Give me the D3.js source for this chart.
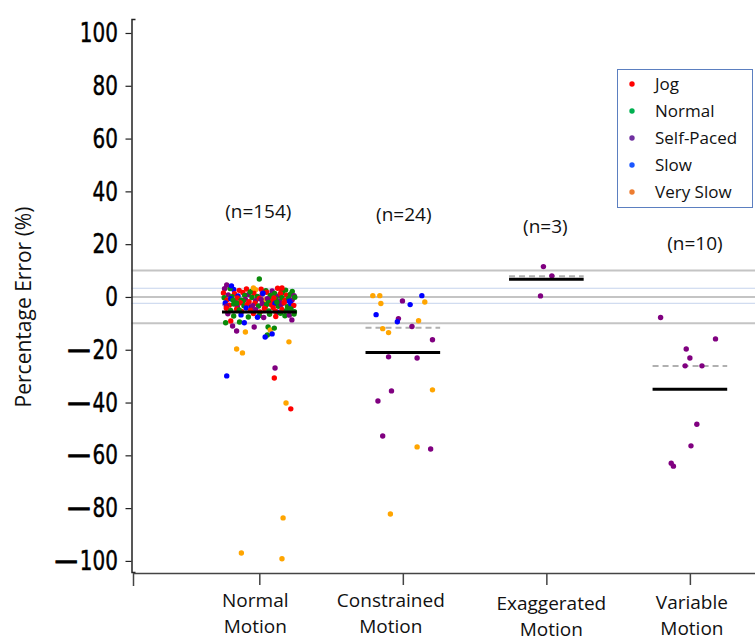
<!DOCTYPE html>
<html>
<head>
<meta charset="utf-8">
<script src="https://cdn.jsdelivr.net/npm/d3@7"></script>
<style>
  body { margin: 0; background: #fff; }
  svg { display: block; }
</style>
</head>
<body>
<div id="chart"></div>
<script>
// categories and summary values
var groups = ["Normal Motion", "Constrained Motion", "Exaggerated Motion", "Variable Motion"];
var groupN = [154, 24, 3, 10];
var groupMean = [-5.7, -21, 6.7, -35];
var groupMedian = [-3, -11.7, 7.8, -26.2];
var speeds = ["Jog", "Normal", "Self-Paced", "Slow", "Very Slow"];
var speedCodes = ["J", "N", "P", "S", "V"];
var yTicks = [100, 80, 60, 40, 20, 0, -20, -40, -60, -80, -100];
var grayLines = [10, 0, -10];
var blueLines = [3.3, -2.4];

// points: [percentage error, jitter (-1..1), speed]
var normalPoints = [
  [3.1,-0.95,"P"],[2.8,-0.7,"S"],[2.5,-0.55,"J"],[3.0,-0.35,"J"],[2.2,-0.2,"N"],[2.9,0.05,"J"],[2.4,0.18,"N"],
  [3.3,0.5,"J"],[2.6,0.72,"N"],[2.1,0.9,"N"],[2.7,-0.1,"V"],[2.3,0.35,"P"],[3.2,-0.8,"N"],[2.0,0.6,"J"],
  [1.5,-0.98,"J"],[0.8,-0.85,"P"],[1.2,-0.68,"J"],[0.4,-0.58,"S"],[1.7,-0.45,"J"],[0.9,-0.3,"P"],[1.4,-0.15,"J"],
  [0.2,-0.05,"N"],[1.1,0.08,"P"],[1.8,0.2,"J"],[0.6,0.3,"N"],[1.3,0.42,"N"],[0.3,0.52,"P"],[1.6,0.63,"N"],
  [0.7,0.74,"J"],[1.0,0.85,"N"],[0.5,0.95,"P"],[1.9,-0.25,"N"],[0.1,-0.75,"N"],[1.4,0.1,"S"],[0.6,-0.4,"N"],[1.2,0.58,"J"],
  [-0.3,-0.96,"N"],[-1.1,-0.88,"J"],[-0.7,-0.78,"S"],[-1.6,-0.66,"P"],[-0.4,-0.6,"J"],[-1.2,-0.5,"N"],[-0.9,-0.38,"P"],
  [-1.8,-0.28,"J"],[-0.2,-0.2,"N"],[-1.4,-0.1,"P"],[-0.6,0.0,"J"],[-1.9,0.1,"N"],[-1.0,0.17,"V"],[-0.5,0.27,"N"],
  [-1.5,0.36,"J"],[-0.8,0.45,"N"],[-1.7,0.55,"P"],[-0.3,0.62,"N"],[-1.3,0.7,"J"],[-0.6,0.8,"N"],[-1.1,0.9,"P"],
  [-0.1,0.97,"N"],[-1.5,-0.44,"N"],[-0.9,0.05,"P"],[-1.6,0.82,"S"],[-0.4,0.4,"J"],[-1.2,-0.72,"N"],[-0.7,0.22,"P"],
  [-2.3,-0.93,"S"],[-3.1,-0.82,"J"],[-2.7,-0.7,"N"],[-3.6,-0.6,"P"],[-2.2,-0.52,"J"],[-3.3,-0.42,"N"],[-2.8,-0.33,"J"],
  [-3.8,-0.22,"S"],[-2.4,-0.12,"J"],[-3.4,-0.02,"N"],[-2.6,0.08,"P"],[-3.9,0.16,"J"],[-2.1,0.25,"N"],[-3.0,0.33,"J"],
  [-2.5,0.43,"S"],[-3.5,0.52,"N"],[-2.9,0.6,"P"],[-2.2,0.68,"J"],[-3.7,0.77,"N"],[-2.6,0.86,"S"],[-3.2,0.94,"J"],
  [-2.4,-0.62,"N"],[-3.5,-0.9,"P"],[-2.9,0.2,"N"],[-3.3,-0.18,"P"],[-2.0,0.48,"N"],
  [-4.3,-0.9,"J"],[-5.1,-0.78,"N"],[-4.6,-0.62,"J"],[-5.5,-0.48,"J"],[-4.2,-0.36,"S"],[-5.0,-0.24,"J"],[-4.8,-0.1,"P"],
  [-5.7,0.02,"J"],[-4.4,0.14,"J"],[-5.3,0.26,"N"],[-4.1,0.38,"J"],[-5.8,0.5,"S"],[-4.7,0.62,"J"],[-5.2,0.74,"N"],
  [-4.5,0.86,"P"],[-5.6,0.96,"N"],[-4.9,-0.55,"N"],[-5.4,0.44,"J"],
  [-6.4,-0.86,"P"],[-7.2,-0.7,"N"],[-6.8,-0.5,"S"],[-7.6,-0.3,"N"],[-6.3,-0.16,"J"],[-7.0,0.0,"N"],[-7.8,0.12,"P"],
  [-6.6,0.28,"N"],[-7.4,0.45,"J"],[-6.2,0.58,"N"],[-7.1,0.7,"N"],[-6.9,0.82,"P"],[-7.7,-0.05,"S"],[-6.5,0.95,"N"],
  [6.8,0.0,"N"],[3.4,-0.16,"V"],[4.5,-0.89,"P"],[4.2,-0.76,"S"],[3.4,0.62,"J"],[-4.5,0.86,"N"],
  [-9.8,-0.92,"N"],[-9.1,-0.78,"J"],[-9.5,-0.54,"N"],[-9.8,-0.41,"S"],[-11,-0.73,"P"],[-12.9,-0.62,"P"],
  [-13.3,-0.38,"V"],[-11.4,-0.14,"P"],[-11.4,0.24,"N"],[-12.5,0.3,"V"],[-11.8,0.41,"N"],[-14.4,0.22,"N"],
  [-14,0.35,"S"],[-15.2,0.16,"S"],[-17,0.81,"V"],[-19.7,-0.62,"V"],[-21.2,-0.46,"V"],[-8.7,0.89,"P"],
  [-29.9,-0.89,"S"],[-26.9,0.43,"P"],[-30.7,0.41,"J"],[-40.2,0.73,"V"],[-42.4,0.86,"J"],
  [-83.7,0.65,"V"],[-97,-0.49,"V"],[-99.2,0.62,"V"]
];
var constrainedPoints = [
  [0.5,-0.82,"V"],[0.5,-0.63,"V"],[0.5,0.52,"S"],[-2.5,-0.6,"V"],[-1.5,-0.01,"P"],[-2.9,0.2,"S"],
  [-1.9,0.6,"V"],[-6.7,-0.73,"S"],[-8.2,-0.12,"P"],[-9.4,-0.15,"S"],[-9,0.43,"V"],[-11.2,0.25,"P"],
  [-12,-0.55,"V"],[-13.5,-0.39,"V"],[-16.2,0.81,"P"],[-22.7,-0.39,"P"],[-23.1,0.39,"P"],[-35.6,-0.31,"P"],
  [-35.2,0.81,"V"],[-39.4,-0.68,"P"],[-52.7,-0.55,"P"],[-56.8,0.39,"V"],[-57.6,0.76,"P"],[-82.2,-0.34,"V"]
];
var exaggeratedPoints = [
  [11.5,-0.08,"P"],[8,0.15,"P"],[0.4,-0.16,"P"]
];
var variablePoints = [
  [-7.8,-0.8,"P"],[-15.9,0.7,"P"],[-19.7,-0.1,"P"],[-23.1,0,"P"],[-26.1,-0.13,"P"],
  [-26.1,0.33,"P"],[-48.2,0.19,"P"],[-56.4,0.03,"P"],[-63,-0.51,"P"],[-64.1,-0.45,"P"]
];

// styles
var dotColors = ["#ff0000", "#0a8a0a", "#800080", "#0000ff", "#ffa500"];
var legendColors = ["#ff0000", "#00b050", "#7030a0", "#1a56ff", "#ed7d31"];

var svgWidth = 755, svgHeight = 642;

var svg = d3.select("#chart")
  .append("svg")
  .attr("width", svgWidth)
  .attr("height", svgHeight);

var x = d3.scaleLinear().domain([0.12, 4.6]).range([133, 776]);
var y = d3.scaleLinear().domain([-104.2, 105.3]).range([572, 19]);
var jit = d3.scaleLinear().domain([-1, 1]).range([-0.255, 0.255]);
var color = d3.scaleOrdinal().domain(speedCodes).range(dotColors);

var axisX = 131.5;

// reference lines
svg.selectAll(".gray-line")
  .data(grayLines)
  .enter()
  .append("line")
  .attr("x1", axisX).attr("x2", svgWidth)
  .attr("y1", d => y(d)).attr("y2", d => y(d))
  .attr("stroke", "#c4c4c4")
  .attr("stroke-width", 2);

svg.selectAll(".blue-line")
  .data(blueLines)
  .enter()
  .append("line")
  .attr("x1", axisX).attr("x2", svgWidth)
  .attr("y1", d => y(d)).attr("y2", d => y(d))
  .attr("stroke", "#8aa6d8")
  .attr("stroke-width", 1)
  .attr("stroke-dasharray", "1,1");

// medians (dashed)
svg.selectAll(".median")
  .data(groupMedian)
  .enter()
  .append("line")
  .attr("x1", (d, i) => x(i + 1 - 0.26))
  .attr("x2", (d, i) => x(i + 1 + 0.26))
  .attr("y1", d => y(d)).attr("y2", d => y(d))
  .attr("stroke", "#b0b0b0")
  .attr("stroke-width", 2)
  .attr("stroke-dasharray", "6,4");

// points
var allPoints = [];
[normalPoints, constrainedPoints, exaggeratedPoints, variablePoints].forEach(function(pts, i) {
  pts.forEach(function(p) {
    allPoints.push({ g: i + 1, v: p[0], j: p[1], s: p[2] });
  });
});

svg.selectAll(".dot")
  .data(allPoints)
  .enter()
  .append("circle")
  .attr("cx", d => x(d.g + jit(d.j)))
  .attr("cy", d => y(d.v))
  .attr("r", 2.7)
  .attr("fill", d => color(d.s));

// means
svg.selectAll(".mean")
  .data(groupMean)
  .enter()
  .append("line")
  .attr("x1", (d, i) => x(i + 1 - 0.26))
  .attr("x2", (d, i) => x(i + 1 + 0.26))
  .attr("y1", d => y(d)).attr("y2", d => y(d))
  .attr("stroke", "#000")
  .attr("stroke-width", 3);

// y axis
var yAxis = d3.axisLeft(y)
  .tickValues(yTicks)
  .tickSize(6)
  .tickSizeOuter(-4)
  .tickPadding(7)
  .tickFormat(d => Math.abs(d));

var gY = svg.append("g")
  .attr("transform", `translate(${axisX},0)`)
  .attr("color", "#222")
  .call(yAxis);

gY.select(".domain").attr("stroke-width", 1.5);
gY.selectAll(".tick line").attr("stroke-width", 1.2);
// condensed, heavy tick labels
gY.selectAll(".tick text")
  .attr("x", 0)
  .attr("transform", "translate(-13.5,0) scale(0.74,1)")
  .attr("font-family", "'DejaVu Sans', sans-serif")
  .attr("font-size", 27)
  .attr("fill", "#000")
  .attr("stroke", "#000")
  .attr("stroke-width", 0.5)
  .each(function(d) {
    if (d < 0) {
      var t = d3.select(this);
      t.text(null);
      t.append("tspan").attr("font-size", 31)
        .attr("stroke-width", 1.2).text("\u2014");
      t.append("tspan").attr("dx", 3).text(Math.abs(d));
    }
  });

// x axis
var xAxis = d3.axisBottom(x)
  .tickValues([1, 2, 3, 4])
  .tickSize(12)
  .tickSizeOuter(13)
  .tickFormat("");

svg.append("g")
  .attr("transform", "translate(0,573)")
  .attr("color", "#444")
  .call(xAxis)
  .selectAll("path, line").attr("stroke-width", 1.5);

// category labels
var labelDx = [-4, -12, 5, 2];
var labelY = [607, 607, 610, 609];
groups.forEach(function(name, i) {
  var words = name.split(" ");
  var t = svg.append("text")
    .attr("x", x(i + 1) + labelDx[i])
    .attr("y", labelY[i])
    .attr("text-anchor", "middle")
    .attr("font-family", "'Open Sans', sans-serif")
    .attr("font-size", 19)
    .attr("fill", "#111");
  words.forEach(function(w, k) {
    t.append("tspan")
      .attr("x", x(i + 1) + labelDx[i])
      .attr("dy", k === 0 ? 0 : 26)
      .text(w);
  });
});

// n labels
var nLabelDx = [-1, 1, -1, 5];
var nLabelY = [218, 221, 233, 250];
svg.selectAll(".nlabel")
  .data(groupN)
  .enter()
  .append("text")
  .attr("x", (d, i) => x(i + 1) + nLabelDx[i])
  .attr("y", (d, i) => nLabelY[i])
  .attr("text-anchor", "middle")
  .attr("font-family", "'Open Sans', sans-serif")
  .attr("font-size", 19)
  .attr("fill", "#111")
  .text(d => `(n=${d})`);

// y axis title
svg.append("text")
  .attr("transform", "translate(31,307) rotate(-90)")
  .attr("text-anchor", "middle")
  .attr("font-family", "'Open Sans', sans-serif")
  .attr("font-size", 21)
  .attr("fill", "#111")
  .text("Percentage Error (%)");

// legend
var legend = svg.append("g");
legend.append("rect")
  .attr("x", 617.5).attr("y", 69.5)
  .attr("width", 135).attr("height", 138)
  .attr("fill", "#fff")
  .attr("stroke", "#5b7fc0")
  .attr("stroke-width", 1);

var legendRow = d3.scaleLinear().domain([0, 4]).range([84, 192]);
speeds.forEach(function(s, i) {
  legend.append("circle")
    .attr("cx", 632)
    .attr("cy", legendRow(i))
    .attr("r", 2.7)
    .attr("fill", legendColors[i]);
  legend.append("text")
    .attr("x", 655)
    .attr("y", legendRow(i))
    .attr("dy", "0.35em")
    .attr("font-family", "'Open Sans', sans-serif")
    .attr("font-size", 17)
    .attr("fill", "#111")
    .text(s);
});
</script>
</body>
</html>
